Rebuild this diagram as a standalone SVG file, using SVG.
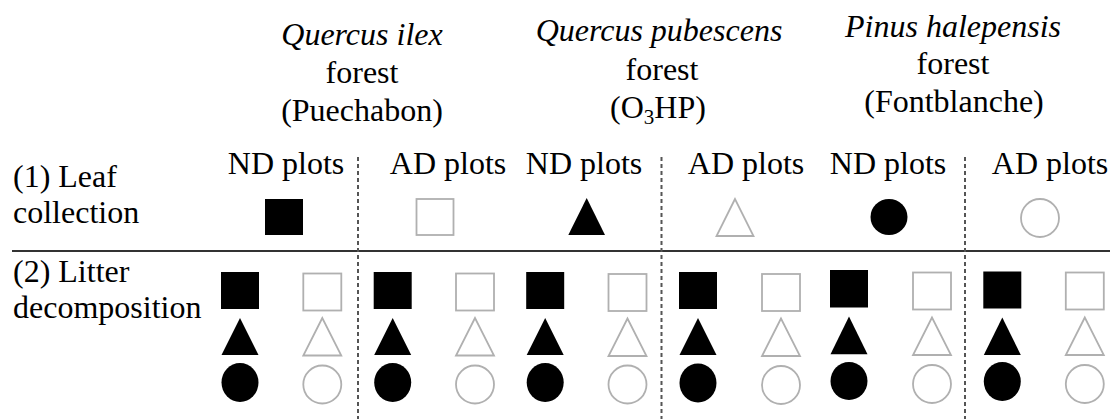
<svg xmlns="http://www.w3.org/2000/svg" width="1110" height="420" viewBox="0 0 1110 420">
<style>
text{font-family:'Liberation Serif','Times New Roman',serif;font-size:32px;fill:#000}
.c{text-anchor:middle}
.it{font-style:italic}
.f{fill:#000;stroke:none}
.o{fill:#fff;stroke:#b0b0b0;stroke-width:1.8}
.dash{stroke:#555;stroke-width:2;stroke-dasharray:4 3;fill:none}
.hline{stroke:#333;stroke-width:2;fill:none}
</style>
<rect width="1110" height="420" fill="#fff"/>
<g id="connectors">
<line class="hline" x1="12" y1="251" x2="1110" y2="251"/>
<line class="dash" x1="358" y1="157" x2="358" y2="419"/>
<line class="dash" x1="661.5" y1="157" x2="661.5" y2="419"/>
<line class="dash" x1="965" y1="157" x2="965" y2="419"/>
</g>
<g id="header-quercus-ilex">
<text class="c it" x="362" y="45">Quercus ilex</text>
<text class="c" x="362" y="83">forest</text>
<text class="c" x="362" y="121">(Puechabon)</text>
</g>
<g id="header-quercus-pubescens">
<text class="c it" x="659" y="41">Quercus pubescens</text>
<text class="c" x="662" y="80">forest</text>
<text class="c" x="658" y="118">(O<tspan font-size="21" dy="6">3</tspan><tspan dy="-6">HP)</tspan></text>
</g>
<g id="header-pinus-halepensis">
<text class="c it" x="953" y="37">Pinus halepensis</text>
<text class="c" x="953" y="74">forest</text>
<text class="c" x="954" y="112">(Fontblanche)</text>
</g>
<g id="row-leaf-collection">
<text x="13" y="187">(1) Leaf</text>
<text x="13" y="223">collection</text>
</g>
<g id="row-litter-decomposition">
<text x="13" y="282">(2) Litter</text>
<text x="13" y="318">decomposition</text>
</g>
<g id="plot-labels">
<text class="c" x="286" y="174">ND plots</text>
<text class="c" x="448" y="174">AD plots</text>
<text class="c" x="584" y="174">ND plots</text>
<text class="c" x="746" y="174">AD plots</text>
<text class="c" x="888" y="174">ND plots</text>
<text class="c" x="1050" y="174">AD plots</text>
</g>
<g id="leaf-symbols">
<rect class="f" x="265" y="199" width="38" height="36"/>
<rect class="o" x="416.5" y="199" width="37" height="36"/>
<polygon class="f" points="586.7,198 568.3,235 605,235"/>
<polygon class="o" points="735,199 716.5,236 753.5,236"/>
<ellipse class="f" cx="889" cy="217" rx="18.5" ry="18"/>
<circle class="o" cx="1040" cy="218" r="19"/>
</g>
<g id="litter-symbols">
<g id="litter-col1">
<rect class="f" x="221" y="272" width="38" height="37"/>
<polygon class="f" points="240,318 221.5,355 258.5,355"/>
<ellipse class="f" cx="240" cy="382.5" rx="18.5" ry="19.5"/>
</g>
<g id="litter-col2">
<rect class="o" x="303.3" y="273.5" width="38" height="37"/>
<polygon class="o" points="322.3,318 303.3,355.5 341.3,355.5"/>
<circle class="o" cx="322.3" cy="384.5" r="19"/>
</g>
<g id="litter-col3">
<rect class="f" x="373.7" y="272" width="38" height="37"/>
<polygon class="f" points="392.7,318 374.2,355 411.2,355"/>
<ellipse class="f" cx="392.7" cy="382.5" rx="18.5" ry="19.5"/>
</g>
<g id="litter-col4">
<rect class="o" x="456" y="273.5" width="38" height="37"/>
<polygon class="o" points="475,318 456,355.5 494,355.5"/>
<circle class="o" cx="475" cy="384.5" r="19"/>
</g>
<g id="litter-col5">
<rect class="f" x="526.2" y="272" width="38" height="37"/>
<polygon class="f" points="545.2,318 526.7,355 563.7,355"/>
<ellipse class="f" cx="545.2" cy="382.5" rx="18.5" ry="19.5"/>
</g>
<g id="litter-col6">
<rect class="o" x="608.5" y="274" width="38" height="37"/>
<polygon class="o" points="627.5,318.5 608.5,356 646.5,356"/>
<circle class="o" cx="627.5" cy="384.5" r="19"/>
</g>
<g id="litter-col7">
<rect class="f" x="679" y="272" width="38" height="37"/>
<polygon class="f" points="698,318 679.5,355 716.5,355"/>
<ellipse class="f" cx="698" cy="383" rx="18.5" ry="19.5"/>
</g>
<g id="litter-col8">
<rect class="o" x="762" y="274" width="38" height="37"/>
<polygon class="o" points="781,318.5 762,356 800,356"/>
<circle class="o" cx="781" cy="385" r="19"/>
</g>
<g id="litter-col9">
<rect class="f" x="830" y="270" width="38" height="37.5"/>
<polygon class="f" points="849,316.5 830.5,354.3 867.5,354.3"/>
<ellipse class="f" cx="849" cy="381" rx="18.5" ry="19"/>
</g>
<g id="litter-col10">
<rect class="o" x="913" y="272.5" width="38" height="37"/>
<polygon class="o" points="932,317.5 913,355 951,355"/>
<circle class="o" cx="932" cy="384" r="19"/>
</g>
<g id="litter-col11">
<rect class="f" x="983.3" y="271.5" width="38" height="37"/>
<polygon class="f" points="1002.3,317.5 983.8,355 1020.8,355"/>
<ellipse class="f" cx="1002.3" cy="381.5" rx="18.5" ry="19.5"/>
</g>
<g id="litter-col12">
<rect class="o" x="1065.8" y="272.5" width="38" height="37"/>
<polygon class="o" points="1084.8,317.5 1065.8,355 1103.8,355"/>
<circle class="o" cx="1084.8" cy="384" r="19"/>
</g>
</g>
</svg>
